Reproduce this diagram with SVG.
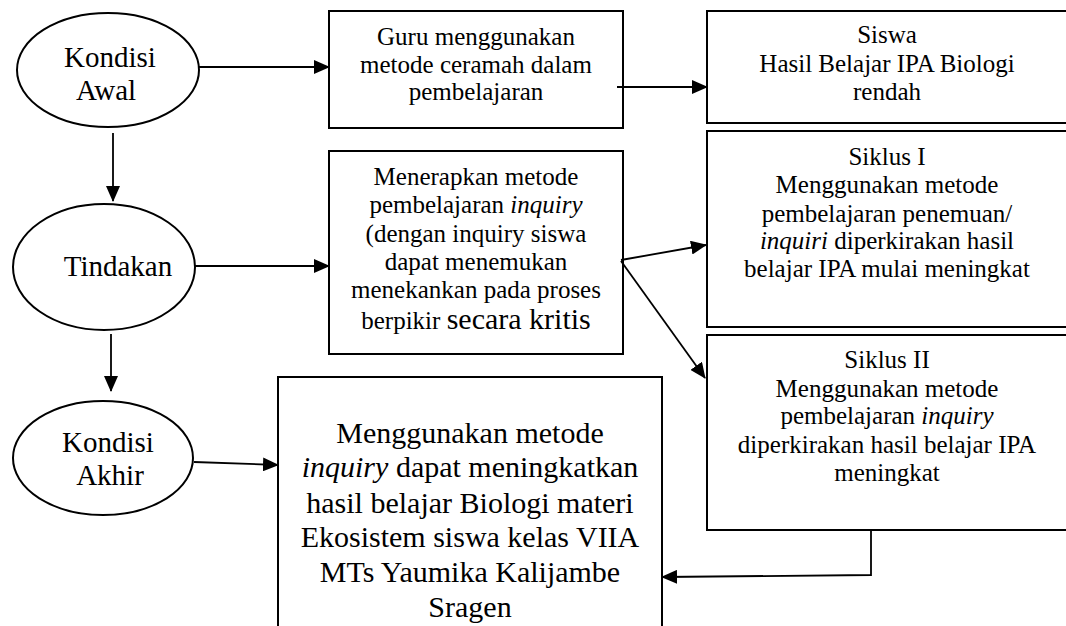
<svg xmlns="http://www.w3.org/2000/svg" width="1066" height="626" viewBox="0 0 1066 626">
<style>
  .shape { fill: #fff; stroke: #000; stroke-width: 2; }
  text { font-family: 'Liberation Serif', 'DejaVu Serif', serif; fill: #000; text-anchor: middle; }
  .s25 { font-size: 25px; }
  .s29 { font-size: 29px; }
  .s30 { font-size: 30px; }
  .conn { fill: none; stroke: #000; stroke-width: 1.8; }
  .it { font-style: italic; }
</style>
<defs>
  <marker id="ah" markerUnits="userSpaceOnUse" markerWidth="16" markerHeight="14" refX="15" refY="7" orient="auto">
    <path d="M0,0 L16,7 L0,14 Z" fill="#000"/>
  </marker>
</defs>
<rect width="1066" height="626" fill="#fff"/>

<g id="kondisi-awal" font-family="Liberation Serif, serif">
  <ellipse class="shape" cx="108" cy="70" rx="91" ry="57"/>
  <text class="s29" x="110" y="67">Kondisi</text>
  <text class="s29" x="106" y="100">Awal</text>
</g>
<g id="tindakan">
  <ellipse class="shape" cx="104" cy="267" rx="91" ry="63"/>
  <text class="s29" x="118" y="276">Tindakan</text>
</g>
<g id="kondisi-akhir">
  <ellipse class="shape" cx="103" cy="458" rx="90" ry="57"/>
  <text class="s29" x="108" y="452">Kondisi</text>
  <text class="s29" x="110" y="485">Akhir</text>
</g>

<g id="guru">
  <rect class="shape" x="329" y="11" width="294" height="117"/>
  <text class="s25" x="476" y="45">Guru menggunakan</text>
  <text class="s25" x="476" y="73">metode ceramah dalam</text>
  <text class="s25" x="476" y="100">pembelajaran</text>
</g>
<g id="menerapkan">
  <rect class="shape" x="329" y="151" width="294" height="203"/>
  <text class="s25" x="476" y="185">Menerapkan metode</text>
  <text class="s25" x="476" y="213">pembelajaran <tspan class="it">inquiry</tspan></text>
  <text class="s25" x="476" y="242">(dengan inquiry siswa</text>
  <text class="s25" x="476" y="270">dapat menemukan</text>
  <text class="s25" x="476" y="298">menekankan pada proses</text>
  <text class="s25" x="476" y="329">berpikir <tspan class="s30">secara kritis</tspan></text>
</g>
<g id="siswa">
  <rect class="shape" x="707" y="11" width="370" height="112"/>
  <text class="s25" x="887" y="43">Siswa</text>
  <text class="s25" x="887" y="72">Hasil Belajar IPA Biologi</text>
  <text class="s25" x="887" y="100">rendah</text>
</g>
<g id="siklus-1">
  <rect class="shape" x="707" y="131" width="370" height="196"/>
  <text class="s25" x="887" y="165">Siklus I</text>
  <text class="s25" x="887" y="193">Menggunakan metode</text>
  <text class="s25" x="887" y="222">pembelajaran penemuan/</text>
  <text class="s25" x="887" y="249"><tspan class="it">inquiri</tspan> diperkirakan hasil</text>
  <text class="s25" x="887" y="277">belajar IPA mulai meningkat</text>
</g>
<g id="siklus-2">
  <rect class="shape" x="707" y="335" width="370" height="195"/>
  <text class="s25" x="887" y="368">Siklus II</text>
  <text class="s25" x="887" y="397">Menggunakan metode</text>
  <text class="s25" x="887" y="424">pembelajaran <tspan class="it">inquiry</tspan></text>
  <text class="s25" x="887" y="453">diperkirakan hasil belajar IPA</text>
  <text class="s25" x="887" y="481">meningkat</text>
</g>
<g id="hasil-akhir">
  <rect class="shape" x="278" y="377" width="384" height="270"/>
  <text class="s30" x="470" y="443">Menggunakan metode</text>
  <text class="s30" x="470" y="477"><tspan class="it">inquiry</tspan> dapat meningkatkan</text>
  <text class="s30" x="470" y="513">hasil belajar Biologi materi</text>
  <text class="s30" x="470" y="547">Ekosistem siswa kelas VIIA</text>
  <text class="s30" x="470" y="582">MTs Yaumika Kalijambe</text>
  <text class="s30" x="470" y="617">Sragen</text>
</g>

<g id="connectors">
  <line class="conn" x1="199" y1="67" x2="329" y2="67" marker-end="url(#ah)"/>
  <line class="conn" x1="617" y1="87" x2="707" y2="87" marker-end="url(#ah)"/>
  <line class="conn" x1="113" y1="133" x2="113" y2="201" marker-end="url(#ah)"/>
  <line class="conn" x1="194" y1="266" x2="329" y2="266" marker-end="url(#ah)"/>
  <line class="conn" x1="621" y1="260" x2="706" y2="245" marker-end="url(#ah)"/>
  <line class="conn" x1="621" y1="261" x2="705" y2="378" marker-end="url(#ah)"/>
  <line class="conn" x1="111" y1="334" x2="111" y2="391" marker-end="url(#ah)"/>
  <line class="conn" x1="194" y1="462" x2="278" y2="465" marker-end="url(#ah)"/>
  <polyline class="conn" points="871,530 871,575 662,577" marker-end="url(#ah)"/>
</g>
</svg>
